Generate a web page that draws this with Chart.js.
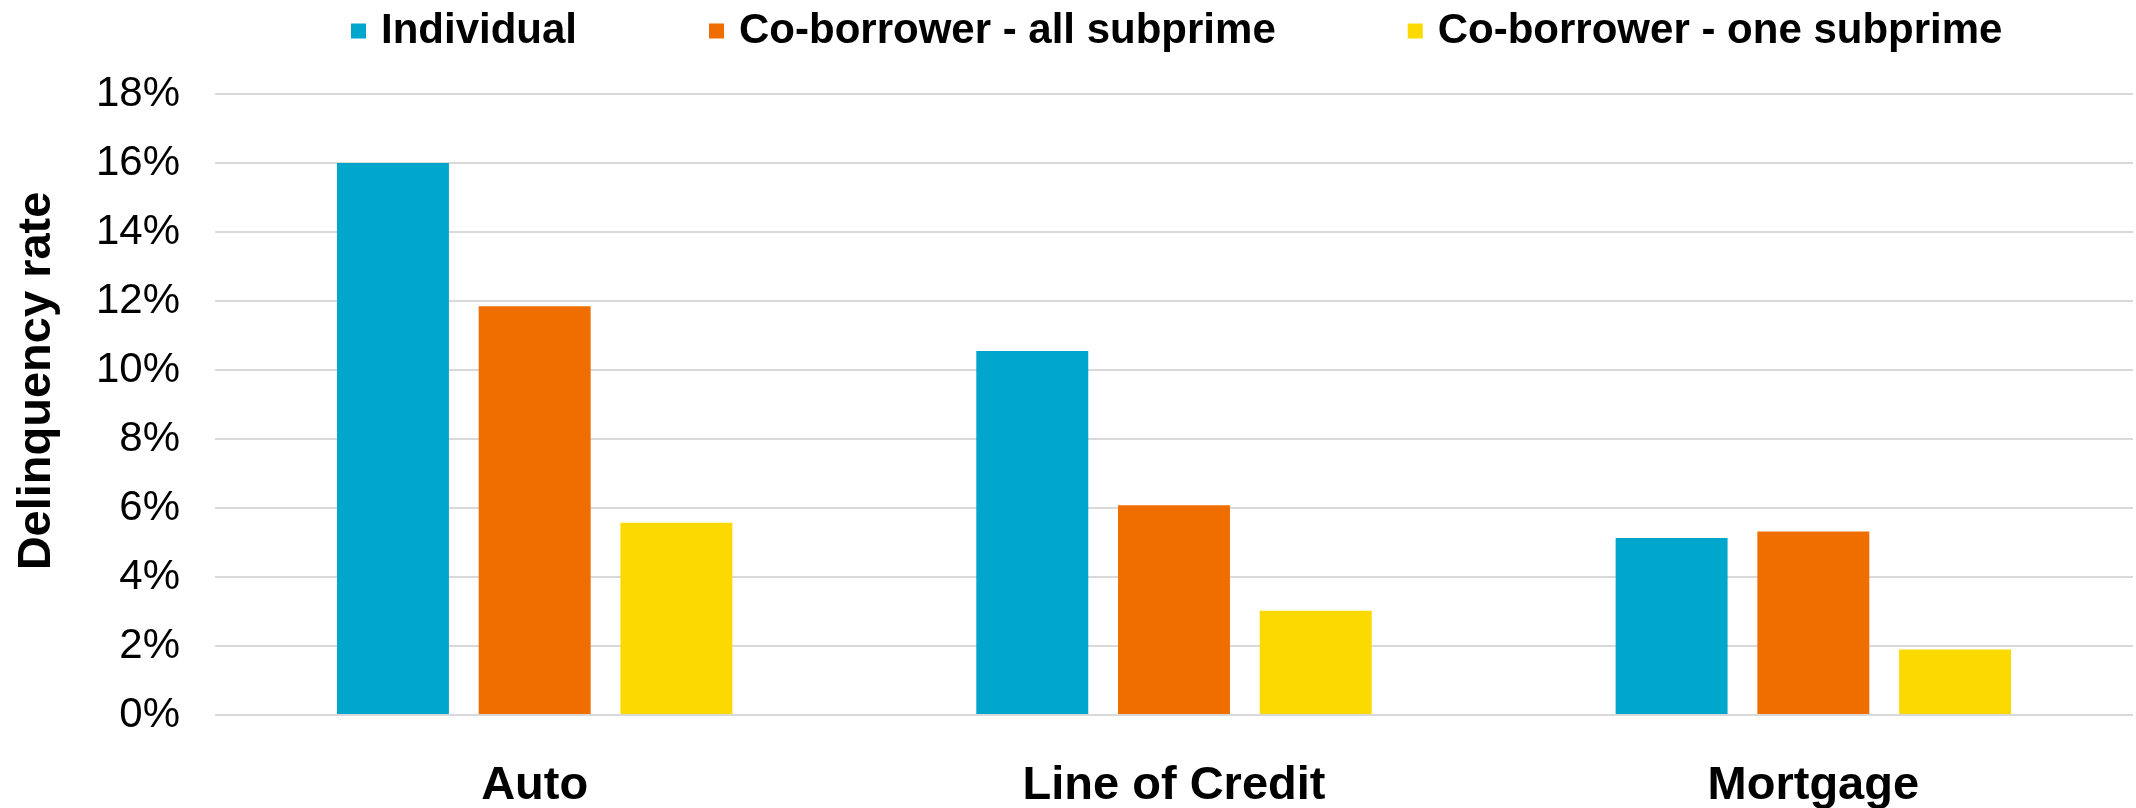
<!DOCTYPE html>
<html>
<head>
<meta charset="utf-8">
<title>Delinquency rate by borrower type</title>
<script src="https://cdn.jsdelivr.net/npm/chart.js@4/dist/chart.umd.min.js"></script>
<style>
  html, body { margin: 0; padding: 0; background: #fff; }
  #wrap { width: 2136px; height: 808px; }
</style>
</head>
<body>
<div id="wrap"><canvas id="rateChart"></canvas></div>
<script>
const categories = ["Auto", "Line of Credit", "Mortgage"];
const individual = [16.0, 10.55, 5.13];
const allSubprime = [11.85, 6.08, 5.32];
const oneSubprime = [5.57, 3.02, 1.9];
const seriesNames = ["Individual", "Co-borrower - all subprime", "Co-borrower - one subprime"];
const barColors = ["#00a6cb", "#f06e00", "#fcd900"];
const yTicks = [0, 2, 4, 6, 8, 10, 12, 14, 16, 18];
const yTitle = "Delinquency rate";

const font = "'Liberation Sans', Arial, sans-serif";
Chart.defaults.font.family = font;
Chart.defaults.color = "#000";

function makeSet(i, values) {
  return {
    label: seriesNames[i],
    data: values,
    backgroundColor: barColors[i],
    borderWidth: 0,
    barPercentage: 0.79,
    categoryPercentage: 0.665
  };
}

// one row legend with wide gaps, plus the rotated y title sitting a bit above centre
const extras = {
  id: "extras",
  afterDraw(chart) {
    const ctx = chart.ctx;
    const box = 15, gap = 15, spacing = 132;
    let x = 351;
    const y = 31;
    ctx.save();
    ctx.font = "bold 42px " + font;
    ctx.textBaseline = "middle";
    chart.data.datasets.forEach(ds => {
      ctx.fillStyle = ds.backgroundColor;
      ctx.fillRect(x, y - box / 2, box, box);
      x += box + gap;
      ctx.fillStyle = "#000";
      ctx.fillText(ds.label, x, y);
      x += ctx.measureText(ds.label).width + spacing;
    });

    ctx.translate(37, 381);
    ctx.rotate(-Math.PI / 2);
    ctx.font = "bold 47px " + font;
    ctx.textAlign = "center";
    ctx.fillText(yTitle, 0, 0);
    ctx.restore();
  }
};

new Chart(document.getElementById("rateChart"), {
  type: "bar",
  data: {
    labels: categories,
    datasets: [makeSet(0, individual), makeSet(1, allSubprime), makeSet(2, oneSubprime)]
  },
  options: {
    responsive: true,
    maintainAspectRatio: false,
    animation: false,
    layout: { padding: { left: 6, right: 3, top: 94, bottom: 0 } },
    plugins: {
      tooltip: { enabled: false },
      legend: { display: false }
    },
    scales: {
      x: {
        afterFit: axis => { axis.height = 93; },
        grid: { display: false },
        border: { display: false },
        ticks: { font: { size: 47, weight: "bold" }, padding: 35 }
      },
      y: {
        min: 0,
        max: 18,
        afterBuildTicks: axis => { axis.ticks = yTicks.map(v => ({ value: v })); },
        afterFit: axis => { axis.width = 209; },
        grid: { color: "#d9d9d9", lineWidth: 2, drawTicks: false },
        border: { display: false },
        ticks: {
          font: { size: 42 },
          padding: 35,
          autoSkip: false,
          callback: v => v + "%"
        }
      }
    }
  },
  plugins: [extras]
});
</script>
</body>
</html>
